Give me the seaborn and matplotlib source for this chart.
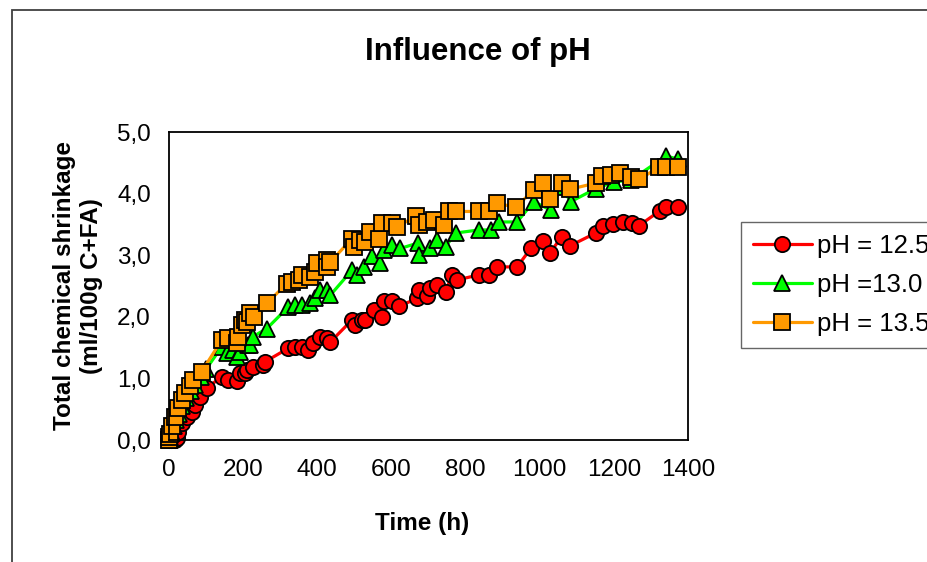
import matplotlib
matplotlib.use('Agg')
import matplotlib.pyplot as plt
import matplotlib.ticker as mticker
from matplotlib.patches import Rectangle
import pandas as pd
import seaborn as sns

# Data (time in hours, shrinkage in ml/100g C+FA)
t_125 = [0, 5, 10, 16, 21, 25, 34, 48, 61, 70, 84, 102, 142, 160, 183, 192, 205, 210, 227, 254,
         259, 322, 341, 359, 376, 389, 408, 426, 435, 494, 503, 521, 530, 552, 575, 579, 602, 620,
         670, 674, 696, 705, 723, 746, 764, 778, 836, 862, 886, 939, 976, 1010, 1027, 1059, 1081,
         1151, 1172, 1199, 1226, 1248, 1268, 1324, 1340, 1372]
v_125 = [0.0, 0.0, 0.02, 0.0, 0.03, 0.13, 0.27, 0.38, 0.46, 0.57, 0.70, 0.84, 1.03, 0.97, 0.95, 1.09,
         1.09, 1.14, 1.19, 1.22, 1.27, 1.49, 1.51, 1.51, 1.46, 1.57, 1.68, 1.65, 1.59, 1.95, 1.87,
         1.95, 1.95, 2.11, 2.00, 2.25, 2.25, 2.17, 2.30, 2.43, 2.33, 2.47, 2.52, 2.41, 2.68, 2.60,
         2.68, 2.68, 2.81, 2.81, 3.11, 3.23, 3.03, 3.30, 3.15, 3.36, 3.48, 3.50, 3.54, 3.52, 3.48,
         3.72, 3.78, 3.78]

t_130 = [0, 3, 8, 14, 20, 27, 35, 45, 58, 70, 85, 100, 142, 156, 173, 183, 192, 214, 219, 227,
         264, 322, 341, 359, 381, 395, 408, 426, 435, 494, 507, 525, 548, 570, 579, 602, 624, 673,
         674, 705, 723, 746, 773, 836, 868, 889, 939, 984, 1030, 1057, 1084, 1151, 1200, 1246,
         1341, 1373]
v_130 = [0.0, 0.05, 0.12, 0.22, 0.32, 0.42, 0.55, 0.68, 0.80, 0.90, 1.02, 1.15, 1.51, 1.41, 1.46,
         1.35, 1.43, 1.54, 1.54, 1.68, 1.81, 2.16, 2.19, 2.19, 2.22, 2.30, 2.43, 2.43, 2.35, 2.76,
         2.68, 2.81, 2.98, 2.87, 3.08, 3.17, 3.11, 3.20, 3.00, 3.11, 3.25, 3.14, 3.36, 3.41, 3.41,
         3.54, 3.54, 3.87, 3.73, 4.11, 3.87, 4.08, 4.19, 4.22, 4.61, 4.56]

t_135 = [0, 1, 3, 8, 16, 25, 34, 43, 57, 66, 88, 142, 160, 183, 187, 196, 205, 210, 219, 230, 264,
         318, 332, 350, 359, 381, 395, 399, 426, 426, 435, 494, 498, 516, 530, 543, 566, 575, 602,
         615, 665, 674, 696, 714, 741, 755, 773, 836, 863, 886, 935, 985, 1010, 1028, 1059, 1081,
         1151, 1169, 1192, 1217, 1246, 1268, 1322, 1341, 1372]
v_135 = [0.0, 0.05, 0.10, 0.22, 0.38, 0.52, 0.65, 0.76, 0.87, 0.97, 1.11, 1.62, 1.65, 1.57, 1.68,
         1.87, 1.95, 1.92, 2.06, 2.00, 2.22, 2.54, 2.57, 2.60, 2.68, 2.65, 2.73, 2.87, 2.92, 2.81,
         2.89, 3.27, 3.14, 3.25, 3.22, 3.38, 3.27, 3.52, 3.52, 3.46, 3.63, 3.49, 3.54, 3.57, 3.49,
         3.71, 3.71, 3.71, 3.71, 3.84, 3.78, 4.06, 4.17, 3.92, 4.17, 4.07, 4.17, 4.29, 4.30, 4.33,
         4.27, 4.23, 4.43, 4.43, 4.43]

labels = ['pH = 12.5', 'pH =13.0', 'pH = 13.5']
colors = ['#FF0000', '#00FF00', '#FF9900']
markers = ['o', '^', 's']

sns.set_style('white')
plt.rcParams['font.family'] = ['Liberation Sans', 'DejaVu Sans']
plt.rcParams.update({'text.color': 'black', 'axes.labelcolor': 'black',
                     'xtick.color': 'black', 'ytick.color': 'black'})

fig = plt.figure(figsize=(9.28, 5.62), dpi=100)
ax = fig.add_axes([169 / 928, 1 - 440 / 562, 519 / 928, 308 / 562])

series = [(t_125, v_125), (t_130, v_130), (t_135, v_135)]
for (t, v), lab, col, mk in zip(series, labels, colors, markers):
    df = pd.DataFrame({'time': t, 'shrinkage': v})
    sns.lineplot(data=df, x='time', y='shrinkage', ax=ax, sort=False, estimator=None,
                 color=col, linewidth=2.3, marker=mk, markersize=11 if mk != '^' else 12,
                 markerfacecolor=col, markeredgecolor='black', markeredgewidth=1.3,
                 label=lab, clip_on=False)

ax.set_xlim(0, 1400)
ax.set_ylim(0, 5)
ax.xaxis.set_major_locator(mticker.MultipleLocator(200))
ax.xaxis.set_minor_locator(mticker.MultipleLocator(100))
ax.yaxis.set_major_locator(mticker.MultipleLocator(1))
ax.yaxis.set_minor_locator(mticker.MultipleLocator(0.5))
ax.yaxis.set_major_formatter(mticker.FuncFormatter(lambda v, p: f'{v:.1f}'.replace('.', ',')))
ax.tick_params(axis='both', which='both', direction='in', color='black', width=1.2,
               labelsize=17.5, labelcolor='black', top=False, right=False)
ax.tick_params(axis='x', which='major', length=7, pad=14)
ax.tick_params(axis='x', which='minor', length=4)
ax.tick_params(axis='y', which='both', length=6, pad=13)
for s in ax.spines.values():
    s.set_color('black')
    s.set_linewidth(1.3)

ax.set_xlabel('Time (h)', fontsize=17.5, fontweight='bold')
ax.xaxis.set_label_coords(0.487, -0.235)
ax.set_ylabel('Total chemical shrinkage\n(ml/100g C+FA)', fontsize=17.5, fontweight='bold',
              multialignment='center')
ax.yaxis.set_label_coords(-0.128, 0.5)

fig.text(478 / 928, 1 - 52 / 562, 'Influence of pH', fontsize=22.5, fontweight='bold',
         ha='center', va='center')

leg = ax.legend(loc='upper left', bbox_to_anchor=(741 / 928, 1 - 222 / 562),
                bbox_transform=fig.transFigure, fontsize=18.5, frameon=True, fancybox=False,
                borderaxespad=0, handlelength=2.3, handletextpad=0.2, labelspacing=0.6,
                borderpad=0.45)
leg.get_frame().set_edgecolor('#404040')
leg.get_frame().set_linewidth(1.0)

# outer chart frame
fig.patches.append(Rectangle((12 / 928, -0.05), 1.2, 1 - 10 / 562 + 0.05, transform=fig.transFigure,
                             fill=False, edgecolor='#404040', linewidth=1.3))

fig.savefig('out.png', dpi=100)
